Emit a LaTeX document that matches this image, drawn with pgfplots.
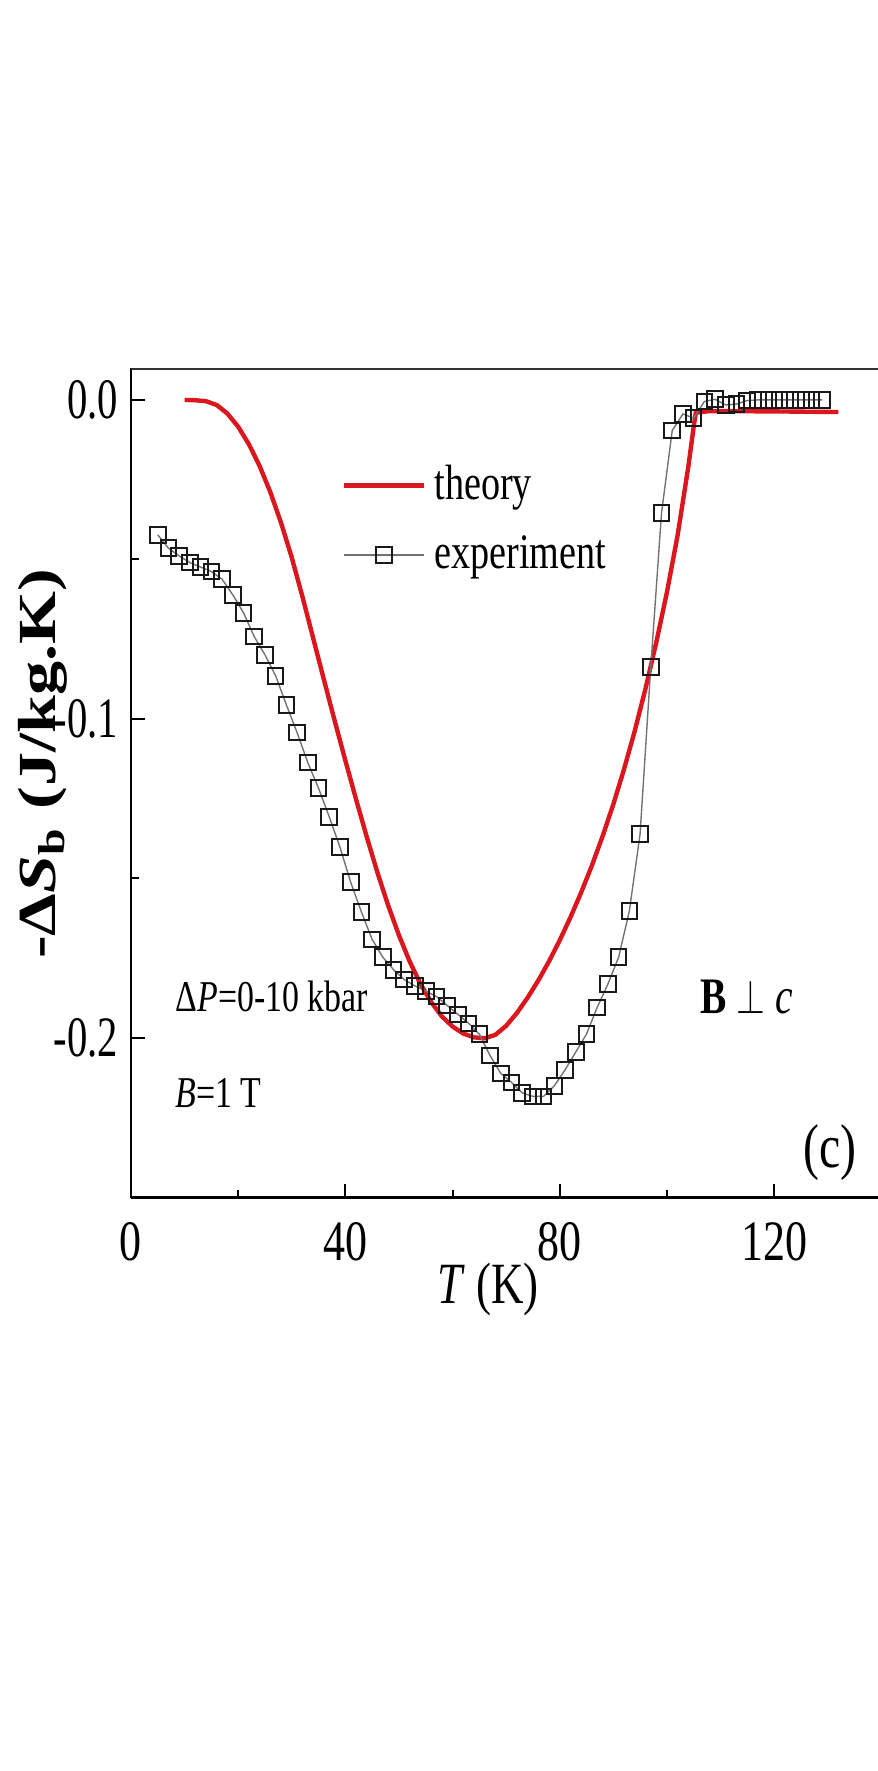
\documentclass[border=0pt]{standalone}
\usepackage{pgfplots}
\pgfplotsset{compat=1.18}
\usepackage{pgfplotstable}
\usepackage{graphicx}
\usepackage{fontspec}
\setmainfont{Liberation Serif}
\definecolor{thr}{RGB}{218,22,30}
\newcommand{\sq}[1]{\scalebox{0.77}[1]{#1}}
\newcommand{\sqy}[1]{\scalebox{0.71}[1]{#1}}

\pgfplotstableread{
T v
10 0
12 -0.0001
14 -0.0004
16 -0.0016
18 -0.0043
20 -0.0084
22 -0.0139
24 -0.0207
26 -0.0289
28 -0.0385
30 -0.0494
32 -0.0617
34 -0.0747
36 -0.0877
38 -0.1005
40 -0.1130
42 -0.1252
44 -0.1370
46 -0.1482
48 -0.1585
50 -0.1678
52 -0.1760
54 -0.1830
56 -0.1887
58 -0.1932
60 -0.1964
62 -0.1986
64 -0.1998
66 -0.2001
68 -0.1990
70 -0.1962
72 -0.1922
74 -0.1874
76 -0.1820
78 -0.1760
80 -0.1694
82 -0.1622
84 -0.1544
86 -0.1460
88 -0.1368
90 -0.1268
92 -0.1158
94 -0.1038
96 -0.0906
98 -0.0762
100 -0.0604
102 -0.0425
104 -0.0210
105 -0.0085
105.4 -0.0040
108 -0.0035
120 -0.0036
132 -0.0038
}\theory

\pgfplotstableread{
T v
5 -0.0423
7 -0.0465
9 -0.0489
11 -0.0510
13 -0.0524
15 -0.0538
17 -0.0562
19 -0.0611
21 -0.0667
23 -0.0742
25 -0.0799
27 -0.0865
29 -0.0956
31 -0.1043
33 -0.1137
35 -0.1217
37 -0.1307
39 -0.1402
41 -0.1512
43 -0.1605
45 -0.1691
47 -0.1747
49 -0.1786
51 -0.1817
53 -0.1837
55 -0.1853
57 -0.1870
59 -0.1898
61 -0.1926
63 -0.1954
65 -0.1988
67 -0.2055
69 -0.2111
71 -0.2139
73 -0.2172
75 -0.2183
77 -0.2183
79 -0.2150
81 -0.2100
83 -0.2044
85 -0.1988
87 -0.1904
89 -0.1831
91 -0.1747
93 -0.1602
95 -0.1361
97 -0.0837
99 -0.0355
101 -0.0096
103 -0.0044
105 -0.0057
107 -0.0005
109 0.0002
111 -0.0016
113 -0.0013
115 -0.0002
117 0.0
119 0.0
121 0.0
123 0.0
125 0.0
127 0.0
129 0.0
}\experiment

\begin{document}
\begin{tikzpicture}
\path[use as bounding box] (-32.75pt,-143.375pt) rectangle (186.75pt,299.375pt);
\begin{axis}[
  at={(0pt,0pt)}, anchor=south west, scale only axis,
  width=186.75pt, height=207.375pt,
  xmin=0, xmax=139.4, ymin=-0.25, ymax=0.01,
  axis x line*=bottom, axis y line*=left,
  x axis line style={-, line width=0.6pt},
  y axis line style={-, line width=0.6pt},
  xtick={0,40,80,120},
  xticklabels={\sq{0},\sq{40},\sq{80},\sq{120}},
  minor xtick={20,60,100},
  ytick={-0.2,-0.1,0},
  yticklabels={\sqy{-0.2},\sqy{-0.1},\sqy{0.0}},
  minor ytick={-0.15,-0.05},
  tick align=inside,
  major tick length=3.5pt, minor tick length=2pt,
  tick style={black, line width=0.5pt},
  ticklabel style={font=\fontsize{14.3}{16}\selectfont},
  xticklabel style={yshift=-2.8pt},
  yticklabel style={xshift=0.3pt},
  xlabel={\sq{\textit{T} (K)}},
  ylabel={\scalebox{1.27}[1]{\bfseries -Δ\textit{S}\textsubscript{b} (J/kg.K)}},
  x label style={at={(axis description cs:0.478,-0.111)}, anchor=center, font=\fontsize{14.6}{17}\selectfont},
  y label style={at={(axis description cs:-0.1175,0.5226)}, anchor=center, rotate=0, font=\fontsize{13.4}{16}\selectfont},
  legend style={at={(axis cs:37,-0.0152)}, anchor=north west, draw=none, fill=none,
    font=\fontsize{12.4}{14}\selectfont, row sep=3.5pt},
  legend cell align=left,
  legend image code/.code={\draw[mark repeat=2,mark phase=2,#1] plot coordinates {(0pt,0pt) (10pt,0pt) (20pt,0pt)};},
]
\addplot[thr, line width=1.1pt] table[x=T,y=v]{\theory};
\addlegendentry{\sq{theory}}
\addplot[black!55, line width=0.35pt, mark=square, mark size=1.95pt,
  mark options={fill=white, draw=black!90, line width=0.5pt, solid}] table[x=T,y=v]{\experiment};
\addlegendentry{\sq{experiment}}
\draw[black!80, line width=0.8pt] (rel axis cs:0,1) -- (rel axis cs:1,1);
\node[anchor=west, font=\fontsize{11}{13}\selectfont] at (axis cs:5.7,-0.187) {\sq{Δ\textit{P}=0-10 kbar}};
\node[anchor=west, font=\fontsize{11}{13}\selectfont] at (axis cs:5.7,-0.2172) {\sq{\textit{B}=1 T}};
\node[anchor=west, font=\fontsize{12.8}{14}\selectfont] at (axis cs:103.6,-0.187) {\sq{\textbf{B} $\perp$ \textit{c}}};
\node[anchor=center, font=\fontsize{15.5}{17}\selectfont] at (axis cs:130.5,-0.236) {\sq{(c)}};
\end{axis}
\end{tikzpicture}
\end{document}
